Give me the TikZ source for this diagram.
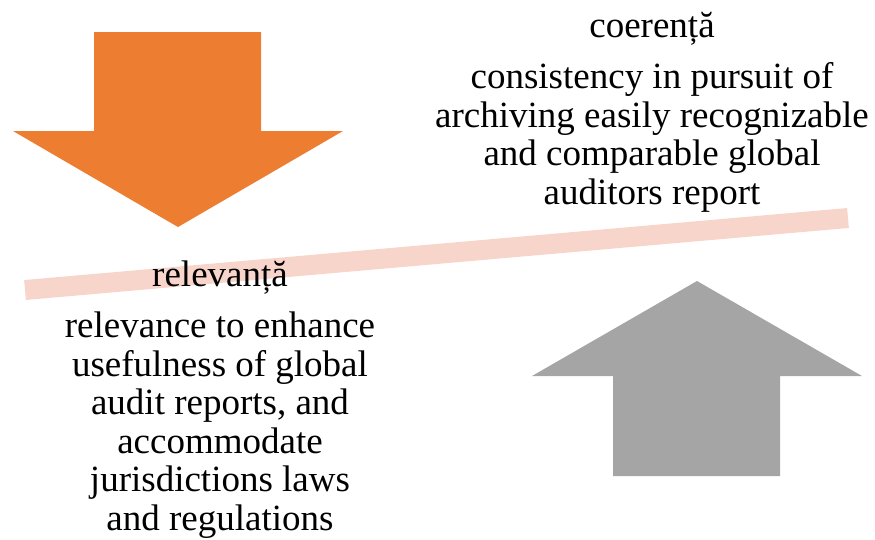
\documentclass[tikz,border=0pt]{standalone}
\usepackage{fontspec}
\setmainfont{Liberation Serif}
\usetikzlibrary{positioning}

\definecolor{downorange}{HTML}{ED7D31}
\definecolor{upgray}{HTML}{A5A5A5}
\definecolor{beampink}{HTML}{F8D5CB}

\begin{document}
\begin{tikzpicture}[x=1pt, y=-1pt,
  title/.style={font=\fontsize{37}{38.5}\selectfont, inner sep=0pt, anchor=base},
  desc/.style={font=\fontsize{37}{38.5}\selectfont, align=center, inner sep=0pt, anchor=base},
  beam/.style={draw=beampink, line width=20pt}]

\useasboundingbox (0,0) rectangle (875,539);

% Arrows
\fill[downorange] (94,32) -- (261,32) -- (261,131) -- (343,131) -- (178,227)
  -- (13,131) -- (94,131) -- cycle;
\fill[upgray] (613,476) -- (780,476) -- (780,376) -- (862,376) -- (697,281)
  -- (532,376) -- (613,376) -- cycle;

% Beam
\coordinate (beam_left) at (25,290);
\coordinate (beam_right) at (848,218);
\draw[beam] (beam_left) -- (beam_right);

% base of a multi-line node = last line
\node[title] (coerenta) at (652,37) {coerență};
\node[desc] (coerenta_text) at (652,204) {consistency in pursuit of\\archiving easily recognizable\\and comparable global\\auditors report};

\node[title] (relevanta) at (220,286) {relevanță};
\node[desc] (relevanta_text) at (220,530) {relevance to enhance\\usefulness of global\\audit reports, and\\accommodate\\jurisdictions laws\\and regulations};

\end{tikzpicture}
\end{document}
